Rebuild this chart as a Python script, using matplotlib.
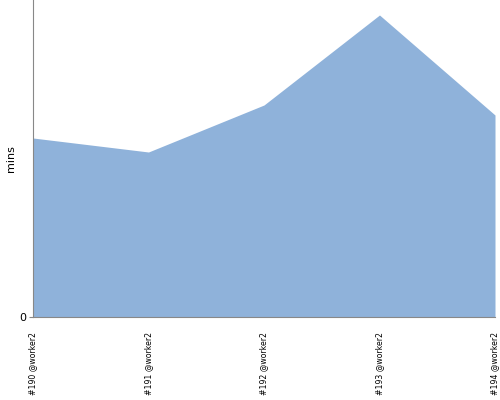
import matplotlib
matplotlib.use('Agg')
import matplotlib.pyplot as plt

builds = ['#190 @worker2', '#191 @worker2', '#192 @worker2', '#193 @worker2', '#194 @worker2']
mins = [17.9, 16.5, 21.2, 30.2, 20.2]

fig = plt.figure(figsize=(5, 4), dpi=100)
ax = fig.add_axes([0.066, 0.2075, 0.924, 0.7925])

x = list(range(len(builds)))
ax.fill_between(x, mins, 0, color='#8fb2da', linewidth=0)

ax.set_xlim(0, len(builds) - 1)
ax.set_ylim(0, 31.7)
ax.set_yticks([0])
ax.set_yticklabels(['0'], fontsize=8)
ax.set_xticks(x)
ax.set_xticklabels(builds, rotation=90, fontsize=5.6, va='top',
                   family=['Liberation Sans Narrow', 'DejaVu Sans'])
ax.tick_params(axis='x', length=0, pad=11)
ax.tick_params(axis='y', length=3, color='#888888', pad=2)
ax.set_ylabel('mins', fontsize=8, labelpad=2)

for s in ['top', 'right']:
    ax.spines[s].set_visible(False)
for s in ['left', 'bottom']:
    ax.spines[s].set_color('#888888')
    ax.spines[s].set_linewidth(0.8)

fig.savefig('out.png')
